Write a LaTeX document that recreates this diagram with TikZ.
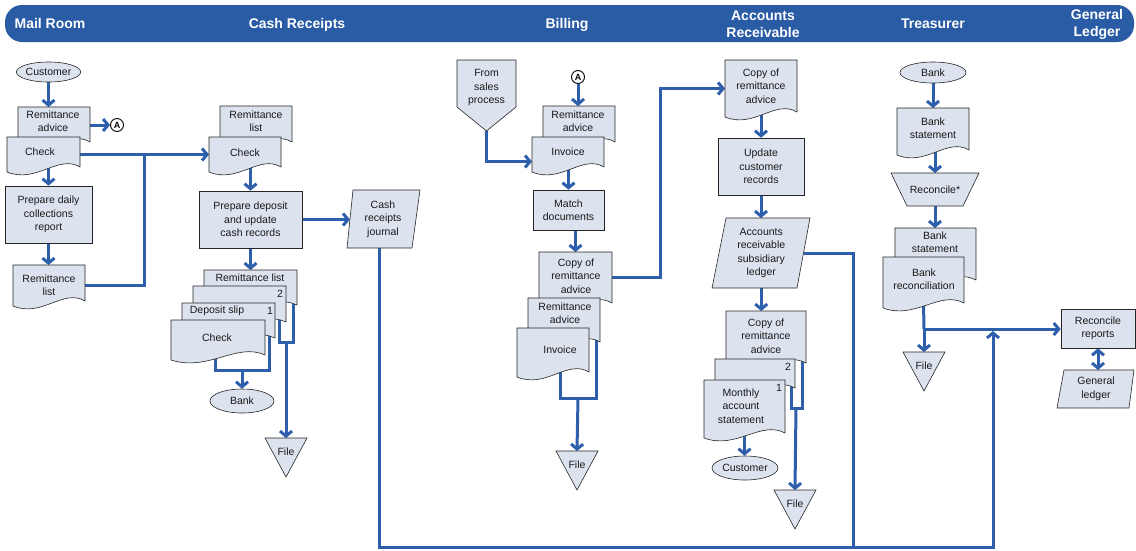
\documentclass[tikz,border=0pt]{standalone}
\usepackage{fontspec}
\setmainfont{Liberation Sans}
\usetikzlibrary{arrows.meta,shapes.geometric}
\definecolor{boxfill}{HTML}{DCE3EE}
\definecolor{flowblue}{HTML}{2D5FAD}
\definecolor{bandblue}{HTML}{2A5BA5}
\pgfdeclarelayer{wires}
\pgfsetlayers{wires,main}

\tikzset{
  shp/.style={draw=black!85, fill=boxfill, line width=0.6pt, line join=miter},
  box/.style={draw=none, inner sep=0pt, outer sep=0pt},
  txt/.style={font=\fontsize{10.5}{13.5}\selectfont, align=center, inner sep=0pt, text=black!90},
  wire/.style={draw=flowblue, line width=3pt},
  flow/.style={wire, -{Straight Barb[length=5pt, width=12pt]}},
  twoway/.style={wire, {Straight Barb[length=5pt, width=12pt]}-{Straight Barb[length=5pt, width=12pt]}},
  head/.style={font=\fontsize{14}{17}\selectfont\bfseries, text=white, align=center, inner sep=0pt},
  connA/.style={circle, draw=black, line width=0.9pt, fill=white, inner sep=0pt, minimum size=13pt,
    font=\fontsize{9}{9}\selectfont\bfseries},
  ellbox/.style={shp, ellipse, txt},
}

% document symbol: name, left, top, right, bottom (left corner), text x, text y, text
\newcommand\DocShape[8]{%
  \filldraw[shp] (#2,#3) -- (#4,#3) -- (#4,{#5-5})
    .. controls ({#4-0.3*(#4-#2)},{#5-18}) and ({#2+0.4*(#4-#2)},{#5+12}) .. (#2,#5) -- cycle;
  \node[box, minimum width={(#4-#2)*1pt}, minimum height={(#5-#3)*1pt}] (#1) at ({(#2+#4)/2},{(#3+#5)/2}) {};
  \node[txt] (#1-t) at (#6,#7) {#8};
}
% four-corner box (parallelogram / trapezoid): name, top y, bottom y, tl x, tr x, br x, bl x, text
\newcommand\SlantBox[8]{%
  \filldraw[shp] (#4,#2) -- (#5,#2) -- (#6,#3) -- (#7,#3) -- cycle;
  \node[box, txt, minimum width={((#5+#6)-(#4+#7))/2*1pt}, minimum height={(#3-#2)*1pt}] (#1)
    at ({(#4+#5+#6+#7)/4},{(#2+#3)/2}) {#8};
}
% file (inverted triangle): name, centre x, top y
\newcommand\FileTri[3]{%
  \filldraw[shp] ({#2-21},#3) -- ({#2+21},#3) -- (#2,{#3+39}) -- cycle;
  \node[box, txt, anchor=north, minimum width=42pt, minimum height=28pt] (#1) at (#2,#3) {File};
}

\begin{document}
\begin{tikzpicture}[x=1pt, y=-1pt]
\useasboundingbox (0,0) rectangle (1136,550);

% header band
\fill[bandblue, rounded corners=17pt] (5,5) rectangle (1134,42);
\node[head, anchor=base] (hMail) at (50,28) {Mail Room};
\node[head, anchor=base] (hCash) at (297,28) {Cash Receipts};
\node[head, anchor=base] (hBill) at (567,28) {Billing};
\node[head] (hAR) at (763,24) {Accounts\\Receivable};
\node[head, anchor=base] (hTreas) at (933,28) {Treasurer};
\node[head] (hGL) at (1097,24) {General\\Ledger};

% Mail room
\node[ellbox, minimum width=64pt, minimum height=20pt] (mrCust) at (48.5,72) {Customer};
\DocShape{mrAdv}{18}{107}{90}{147}{53}{121}{Remittance\\advice}
\node[connA] (aOut) at (117,125) {A};
\DocShape{mrChk}{7}{137}{80}{172}{40}{152}{Check}
\node[shp, txt, minimum width=87pt, minimum height=57pt] (mrPrep) at (48.5,214.5) {Prepare daily\\collections\\report};
\DocShape{mrList}{13}{265}{85}{306}{49}{285}{Remittance\\list}

% Cash receipts
\DocShape{crList}{220}{106}{292}{147}{256}{121}{Remittance\\list}
\DocShape{crChk}{209}{137}{281}{172}{245}{153}{Check}
\node[shp, txt, minimum width=103pt, minimum height=57pt] (crPrep) at (250.5,219.5) {Prepare deposit\\and update\\cash records};
\SlantBox{crJour}{190}{248}{353}{420}{412}{347}{Cash\\receipts\\journal}
\DocShape{crSList}{204}{270}{297}{310}{250}{278}{Remittance list}
\DocShape{crS2}{193}{286}{286}{327}{240}{300}{}
\node[txt] (crS2n) at (280,294) {2};
\DocShape{crSDep}{182}{303}{275}{343}{217}{311}{Deposit slip}
\node[txt] (crSDepn) at (270,311) {1};
\DocShape{crSChk}{171}{320}{265}{360}{217}{338}{Check}
\node[ellbox, minimum width=64pt, minimum height=24pt] (crBank) at (242,401) {Bank};
\FileTri{crFile}{286}{438}

% Billing
\filldraw[shp] (457,60) -- (516,60) -- (516,107) -- (486.5,131) -- (457,107) -- cycle;
\node[box, minimum width=59pt, minimum height=71pt] (blSales) at (486.5,95.5) {};
\node[txt] (blSales-t) at (486.5,87.5) {From\\sales\\process};
\node[connA] (aIn) at (578,77) {A};
\DocShape{blAdv}{543}{106}{615}{147}{578}{121}{Remittance\\advice}
\DocShape{blInv}{532}{137}{604}{172}{568}{152}{Invoice}
\node[shp, txt, minimum width=71pt, minimum height=40pt] (blMatch) at (568.5,210) {Match\\documents};
\DocShape{blCopy}{539}{252}{612}{308}{576}{276}{Copy of\\remittance\\advice}
\DocShape{blAdv2}{528}{298}{600}{347}{565}{313}{Remittance\\advice}
\DocShape{blInv2}{517}{328}{589}{377}{560}{350}{Invoice}
\FileTri{blFile}{577}{451}

% Accounts receivable
\DocShape{arCopy}{725}{60}{797}{117}{761}{86}{Copy of\\remittance\\advice}
\node[shp, txt, minimum width=86pt, minimum height=57pt] (arUpd) at (761,166.5) {Update\\customer\\records};
\SlantBox{arLed}{218}{288}{726}{810}{797}{712}{Accounts\\receivable\\subsidiary\\ledger}
\DocShape{arCopy2}{726}{311}{806}{368}{766}{336}{Copy of\\remittance\\advice}
\DocShape{arS2}{715}{359}{795}{393}{755}{375}{}
\node[txt] (arS2n) at (788,367) {2};
\DocShape{arMon}{704}{380}{785}{438}{741}{406}{Monthly\\account\\statement}
\node[txt] (arMonn) at (779,388) {1};
\node[ellbox, minimum width=66pt, minimum height=24pt] (arCust) at (745,468) {Customer};
\FileTri{arFile}{795}{490}

% Treasurer
\node[ellbox, minimum width=66pt, minimum height=21pt] (trBank) at (933,72.5) {Bank};
\DocShape{trStmt}{897}{108}{969}{155}{933}{128}{Bank\\statement}
\SlantBox{trRec}{173}{206}{891}{979}{963}{907}{Reconcile*}
\DocShape{trStmt2}{895}{228}{976}{285}{935}{242}{Bank\\statement}
\DocShape{trRecon}{883}{257}{964}{308}{924}{279}{Bank\\reconciliation}
\FileTri{trFile}{924}{352}

% General ledger
\node[shp, txt, minimum width=74pt, minimum height=39pt] (glRep) at (1098,328.5) {Reconcile\\reports};
\SlantBox{glLed}{370}{408}{1064}{1134}{1129}{1057}{General\\ledger}

% junction points of the flow lines
\coordinate (j1) at (242,370);
\coordinate (j2) at (286,342);
\coordinate (j3) at (578,398);
\coordinate (j4) at (796,408);
\coordinate (j5) at (924,329);
\coordinate (j6) at (993,331);
\coordinate (loopR) at (993,547);
\coordinate (mrJoin) at (144,0);
\coordinate (blUp) at (660,0);
\coordinate (arDown) at (853,547);

\begin{pgfonlayer}{wires}
  % mail room
  \draw[flow] (mrCust.south) -- (mrCust.south |- mrAdv.north);
  \draw[flow] (mrAdv.east |- aOut) -- (aOut.west);
  \draw[flow] ([yshift=6pt]mrChk.south -| mrPrep.north) -- (mrPrep.north);
  \draw[flow] (mrPrep.south) -- (mrPrep.south |- mrList.north);
  \draw[flow] (mrChk.east) -- (crChk.west);
  \draw[wire] (mrList.east) -| (mrJoin |- mrChk.east);
  % cash receipts
  \draw[flow] ([yshift=6pt]crChk.south -| crPrep.north) -- (crPrep.north);
  \draw[flow] (crPrep.east) -- (crPrep.east -| crJour.west);
  \draw[flow] (crPrep.south) -- (crPrep.south |- crSList.north);
  \draw[wire] ([xshift=-3pt,yshift=6pt]crSChk.south) |- (j1) -| ([xshift=-6pt,yshift=8pt]crSDep.south east);
  \draw[flow] (j1) -- (crBank.north);
  \draw[wire] ([xshift=-7pt,yshift=8pt]crS2.south east) |- (j2) -| ([xshift=-4pt,yshift=8pt]crSList.south east);
  \draw[flow] (j2) -- (crFile.north);
  \draw[flow] ([xshift=-4pt]crJour.south) |- (loopR) -- (j6);
  % billing
  \draw[flow] (blSales.south) |- ([yshift=-7pt]blInv.west);
  \draw[flow] (aIn.south) -- (aIn.south |- blAdv.north);
  \draw[flow] ([yshift=6pt]blInv.south -| blMatch.north) -- (blMatch.north);
  \draw[flow] (blMatch.south -| blCopy.north) -- (blCopy.north);
  \draw[flow] ([yshift=3pt]blCopy.east) -| (blUp |- arCopy.west) -- (arCopy.west);
  \draw[wire] ([xshift=7pt,yshift=6pt]blInv2.south) |- (j3) -| ([xshift=-4pt,yshift=8pt]blAdv2.south east);
  \draw[flow] (j3) -- (blFile.north);
  % accounts receivable
  \draw[flow] ([yshift=6pt]arCopy.south) -- (arUpd.north);
  \draw[flow] (arUpd.south) -- (arUpd.south |- arLed.north);
  \draw[wire] (arLed.east) -| (arDown);
  \draw[flow] (arLed.south) -- (arLed.south |- arCopy2.north);
  \draw[wire] ([xshift=-4pt,yshift=8pt]arS2.south east) |- (j4) -| ([xshift=-4pt,yshift=8pt]arCopy2.south east);
  \draw[flow] (j4) -- (arFile.north);
  \draw[flow] ([yshift=6pt]arMon.south) -- (arMon.south |- arCust.north);
  % treasurer
  \draw[flow] (trBank.south) -- (trBank.south |- trStmt.north);
  \draw[flow] ([yshift=6pt]trStmt.south -| trRec.north) -- (trRec.north);
  \draw[flow] (trRec.south) -- (trRec.south |- trStmt2.north);
  \draw[wire] ([yshift=6pt]trRecon.south) -- (j5);
  \draw[flow] (j5) -- (trFile.north);
  \draw[flow] (j5) -- (j5 -| glRep.west);
  % general ledger
  \draw[twoway] (glRep.south) -- (glRep.south |- glLed.north);
\end{pgfonlayer}
\end{tikzpicture}
\end{document}
